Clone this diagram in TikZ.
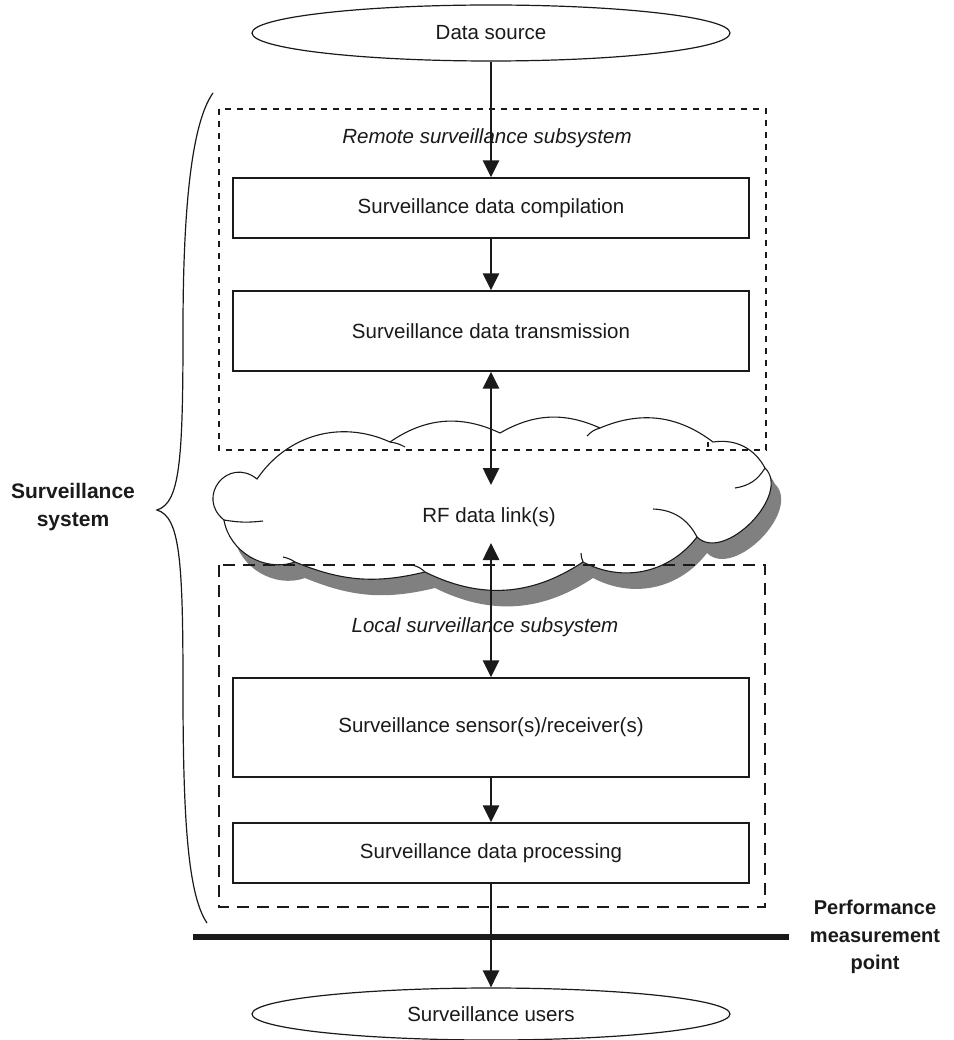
\documentclass[tikz,border=0pt]{standalone}
\usepackage{fontspec}
\setmainfont{Liberation Sans}
\usetikzlibrary{arrows.meta,shapes.geometric}
\definecolor{ink}{HTML}{1A1A1A}
\definecolor{cloudshadow}{HTML}{808080}

% outline of the RF cloud, traced puff by puff (clockwise on the page)
\newcommand\cloudoutline{
  (224,520) to[bend left=90,looseness=1.8] (257,479)
  to[bend left=40] (390,442)
  to[bend left=30] (500,433)
  to[bend left=27] (600,428)
  to[bend left=30] (713,442)
  to[bend left=35] (765,468)
  to[bend left=90] (697,537)
  to[bend left=40] (583,562)
  to[bend left=30] (425,572)
  to[bend left=18] (295,562)
  to[bend left=50] (224,520) -- cycle}

\begin{document}
\begin{tikzpicture}[x=1pt,y=-1pt,
  txt/.style={font=\fontsize{20.5}{24}\selectfont, text=ink},
  lbl/.style={font=\fontsize{20}{27.5}\selectfont\bfseries, text=ink, align=center},
  stage/.style={txt, draw=ink, line width=1.3pt, fill=white,
    minimum width=516pt, inner sep=0pt},
  terminal/.style={txt, draw=ink, line width=1.2pt, ellipse, inner sep=0pt,
    minimum width=478pt},
  arr/.style={draw=ink, line width=2.6pt, -{Triangle[length=17pt,width=16pt]}},
  biarr/.style={draw=ink, line width=2.6pt,
    {Triangle[length=17pt,width=16pt]}-{Triangle[length=17pt,width=16pt]}},
  curl/.style={draw=ink, line width=1.1pt},
]
\useasboundingbox (0,0) rectangle (953,1040);
\fill[white] (0,0) rectangle (953,1040);

% cloud with its drop shadow
\fill[cloudshadow, shift={(10,16)}] \cloudoutline;
\filldraw[fill=white, draw=ink, line width=1.1pt] \cloudoutline;
% inner strokes where the puffs overlap
\draw[curl] (224,520) to[bend right=8] (263,521);
\draw[curl] (390,442) to[bend left=10] (405,447);
\draw[curl] (600,428) to[bend right=15] (587,436);
\draw[curl] (708,442) -- (708,447);
\draw[curl] (765,468) to[bend left=25] (735,488);
\draw[curl] (697,537) to[bend right=30] (653,509);
\draw[curl] (583,562) to[bend left=10] (581,553);
\draw[curl] (425,572) to[bend right=15] (412,565);
\draw[curl] (295,562) to[bend right=10] (283,557);
\node[txt] (rf) at (489,517) {RF data link(s)};

% subsystem frames
\draw[ink, line width=2.8pt, dash pattern=on 6pt off 6pt] (219,109) rectangle (766,450);
\draw[ink, line width=2.8pt, dash pattern=on 12pt off 8pt] (219,565) rectangle (765,907);
\node[txt, font=\fontsize{20.5}{24}\selectfont\itshape] (remote) at (487,138) {Remote surveillance subsystem};
\node[txt, font=\fontsize{20.5}{24}\selectfont\itshape] (local) at (485,627) {Local surveillance subsystem};

% end points and processing stages
\node[terminal, minimum height=56pt] (src) at (491,33) {Data source};
\node[stage, minimum height=60pt] (comp) at (491,208) {Surveillance data compilation};
\node[stage, minimum height=80pt] (trans) at (491,331) {Surveillance data transmission};
\node[stage, minimum height=99pt] (sens) at (491,727.5) {Surveillance sensor(s)/receiver(s)};
\node[stage, minimum height=60pt] (proc) at (491,853) {Surveillance data processing};
\node[terminal, minimum height=52pt] (users) at (491,1014) {Surveillance users};

\coordinate (rfin) at (491,485);
\coordinate (rfout) at (491,543);

\draw[arr] (src.south) -- (comp.north);
\draw[arr] (comp.south) -- (trans.north);
\draw[biarr] (trans.south) -- (rfin);
\draw[biarr] (rfout) -- (sens.north);
\draw[arr] (sens.south) -- (proc.north);
\draw[arr] (proc.south) -- (users.north);

% measurement point
\coordinate (mpl) at (193,937);
\coordinate (mpr) at (789,937);
\draw[ink, line width=6pt] (mpl) -- (mpr);
\node[lbl] (perf) at (875,937) {Performance\\measurement\\point};

% system brace
\coordinate (bt) at (213,93);
\coordinate (bm) at (157,510);
\coordinate (bb) at (207,923);
\draw[ink, line width=1.2pt] (bt) .. controls (190,125) and (183,220) .. (183,330)
  .. controls (183,460) and (180,503) .. (bm)
  .. controls (180,517) and (183,560) .. (183,690)
  .. controls (183,820) and (188,895) .. (bb);
\node[lbl, font=\fontsize{21}{28}\selectfont\bfseries] (sys) at (73,507) {Surveillance\\system};
\end{tikzpicture}
\end{document}
